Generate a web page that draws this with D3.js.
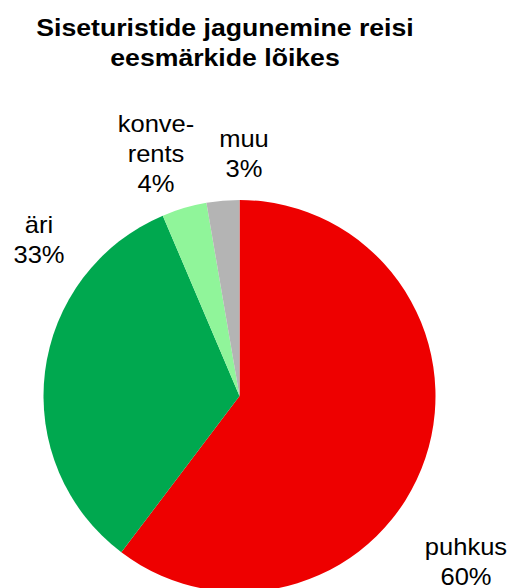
<!DOCTYPE html>
<html>
<head>
<meta charset="utf-8">
<script src="https://cdn.jsdelivr.net/npm/d3@7"></script>
<style>
body { margin: 0; background: #fff; }
text { font-family: "Liberation Sans", Arial, sans-serif; fill: #000; }
</style>
</head>
<body>
<svg id="chart" width="512" height="588"></svg>
<script>
var categories = ['puhkus', 'äri', 'konverents', 'muu'];
var values = [60.3, 33.3, 3.7, 2.7];
var colors = ['#ee0000', '#00a84f', '#90f59a', '#b4b4b4'];
// label lines and anchor spots (picture coords)
var label_lines = [['puhkus', '60%'], ['äri', '33%'], ['konve-', 'rents', '4%'], ['muu', '3%']];
var label_pos = [[466, 555], [39, 233], [156, 132], [244, 147]];
var title_lines = ['Siseturistide jagunemine reisi', 'eesmärkide lõikes'];

var svg = d3.select('#chart');
var cx = 239.5, cy = 396, r = 196;
var stretch = 1.11; // reference text is a bit wider than Arial

title_lines.forEach(function(line, i) {
    svg.append('text')
	.attr('transform', 'translate(' + 225 + ',' + (36 + i * 30) + ') scale(' + stretch + ',1)')
	.attr('text-anchor', 'middle')
	.style('font-size', '24px').style('font-weight', 'bold')
	.text(line);
});

var pie = d3.pie().sort(null).value(function(d) {return d;});
var arc = d3.arc().innerRadius(0).outerRadius(r);

var g = svg.append('g').attr('transform', 'translate(' + cx + ',' + cy + ')');
g.selectAll('path')
    .data(pie(values))
    .enter().append('path')
    .attr('d', arc)
    .attr('fill', function(d, i) {return colors[i];});

label_lines.forEach(function(lines, i) {
    var t = svg.append('text')
	.attr('transform', 'translate(' + label_pos[i][0] + ',' + label_pos[i][1] + ') scale(' + stretch + ',1)')
	.attr('text-anchor', 'middle')
	.style('font-size', '23px');
    lines.forEach(function(line, j) {
	t.append('tspan')
	    .attr('x', 0)
	    .attr('y', j * 30)
	    .text(line);
    });
});
</script>
</body>
</html>
